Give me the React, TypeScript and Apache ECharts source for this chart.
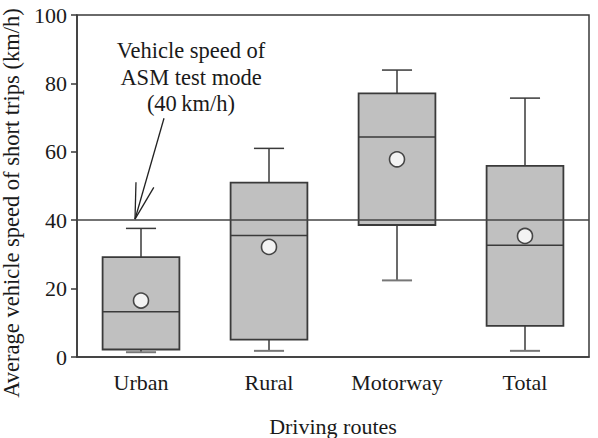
import React, { useEffect, useRef } from 'react';
import * as echarts from 'echarts';

// Average vehicle speed of short trips per driving route (km/h)
const routes = ['Urban', 'Rural', 'Motorway', 'Total'];
const whiskerLow = [1.4, 1.8, 22.4, 1.8];
const lowerQuartile = [2.2, 5.1, 38.6, 9.1];
const medianSpeed = [13.2, 35.5, 64.3, 32.7];
const upperQuartile = [29.2, 51.0, 77.1, 55.9];
const whiskerHigh = [37.6, 61.0, 83.9, 75.7];
const meanSpeed = [16.5, 32.2, 57.8, 35.4];

// Reference speed of the ASM test mode
const asmSpeed = 40;
const asmNote = ['Vehicle speed of', 'ASM test mode', '(40\u2009km/h)'];

const yMin = 0;
const yMax = 100;
const yStep = 20;

const FONT = "'Liberation Serif', 'Times New Roman', serif";
const INK = '#1a1a1a';
const EDGE = '#3a3a3a';

export default function App() {
  const ref = useRef<HTMLDivElement>(null);

  useEffect(() => {
    if (!ref.current) return;
    const chart = echarts.init(ref.current, null, { renderer: 'svg' });

    const boxData = routes.map((_, i) => [
      i,
      whiskerLow[i],
      lowerQuartile[i],
      medianSpeed[i],
      upperQuartile[i],
      whiskerHigh[i],
    ]);

    const option: any = {
      animation: false,
      backgroundColor: '#fff',
      textStyle: { fontFamily: FONT },
      grid: {
        left: 77,
        right: 9,
        top: 15,
        bottom: 81,
        outerBoundsMode: 'none',
        containLabel: false,
        show: true,
        borderColor: EDGE,
        borderWidth: 1.5,
        backgroundColor: 'transparent',
      },
      xAxis: {
        type: 'category',
        data: routes,
        boundaryGap: true,
        name: 'Driving routes',
        nameLocation: 'middle',
        nameGap: 58,
        nameTextStyle: { fontFamily: FONT, fontSize: 22, color: INK },
        axisLine: { lineStyle: { color: EDGE, width: 1.5 } },
        axisTick: { alignWithLabel: true, length: 6, lineStyle: { color: EDGE, width: 1.5 } },
        axisLabel: { fontFamily: FONT, fontSize: 22, color: INK, margin: 14 },
      },
      yAxis: {
        type: 'value',
        min: yMin,
        max: yMax,
        interval: yStep,
        name: 'Average vehicle speed of short trips (km/h)',
        nameLocation: 'middle',
        nameGap: 54,
        nameTextStyle: { fontFamily: FONT, fontSize: 22.5, color: INK, padding: [0, 34, 0, 0] },
        axisLine: { show: true, lineStyle: { color: EDGE, width: 1.5 } },
        axisTick: { show: true, length: 6, lineStyle: { color: EDGE, width: 1.5 } },
        axisLabel: { fontFamily: FONT, fontSize: 22, color: INK, margin: 10 },
        splitLine: { show: false },
      },
      series: [
        {
          type: 'custom',
          data: boxData,
          encode: { x: 0, y: [1, 2, 3, 4, 5] },
          z: 2,
          renderItem: (_params: any, api: any) => {
            const idx = api.value(0);
            const lo = api.coord([idx, api.value(1)]);
            const q1 = api.coord([idx, api.value(2)]);
            const md = api.coord([idx, api.value(3)]);
            const q3 = api.coord([idx, api.value(4)]);
            const hi = api.coord([idx, api.value(5)]);
            const band = api.size([1, 0])[0];
            const bw = band * 0.6;
            const cw = band * 0.235;
            const x = lo[0];
            const line = { stroke: EDGE, lineWidth: 1.5 };
            return {
              type: 'group',
              children: [
                { type: 'line', shape: { x1: x, y1: hi[1], x2: x, y2: q3[1] }, style: line },
                { type: 'line', shape: { x1: x, y1: q1[1], x2: x, y2: lo[1] }, style: line },
                {
                  type: 'rect',
                  shape: { x: x - bw / 2, y: q3[1], width: bw, height: q1[1] - q3[1] },
                  style: { fill: '#c0c0c0', stroke: EDGE, lineWidth: 1.8 },
                },
                { type: 'line', shape: { x1: x - bw / 2, y1: md[1], x2: x + bw / 2, y2: md[1] }, style: line },
                { type: 'line', shape: { x1: x - cw / 2, y1: hi[1], x2: x + cw / 2, y2: hi[1] }, style: line },
                { type: 'line', shape: { x1: x - cw / 2, y1: lo[1], x2: x + cw / 2, y2: lo[1] }, style: { stroke: '#777', lineWidth: 2 } },
              ],
            };
          },
        },
        {
          type: 'scatter',
          data: routes.map((r, i) => [r, meanSpeed[i]]),
          symbol: 'circle',
          symbolSize: 15,
          z: 4,
          itemStyle: { color: '#fff', borderColor: '#222', borderWidth: 1.6 },
          markLine: {
            silent: true,
            symbol: ['none', 'none'],
            label: { show: false },
            lineStyle: { color: '#444', width: 1.5, type: 'solid' },
            data: [{ yAxis: asmSpeed }],
          },
        },
      ],
    };

    chart.setOption(option);

    // Annotation arrow pointing at the ASM speed line above the Urban box
    const [cx, cy] = chart.convertToPixel({ xAxisIndex: 0, yAxisIndex: 0 }, [0, asmSpeed]) as number[];
    const tip = [cx - 6, cy - 1];
    const tail = [tip[0] + 29, tip[1] - 101];
    const ang = Math.atan2(tail[1] - tip[1], tail[0] - tip[0]);
    const headLen = 37;
    const spread = (14.5 * Math.PI) / 180;
    const h1 = [tip[0] + headLen * Math.cos(ang - spread), tip[1] + headLen * Math.sin(ang - spread)];
    const h2 = [tip[0] + headLen * Math.cos(ang + spread), tip[1] + headLen * Math.sin(ang + spread)];
    const arrowStyle = { stroke: '#222', lineWidth: 1.3 };

    chart.setOption({
      graphic: [
        {
          type: 'text',
          x: tip[0] + 56,
          y: 77,
          style: {
            text: asmNote.join('\n'),
            fontFamily: FONT,
            fontSize: 22.5,
            fill: INK,
            align: 'center',
            verticalAlign: 'middle',
            lineHeight: 26.5,
          },
        },
        { type: 'line', shape: { x1: tail[0], y1: tail[1], x2: tip[0], y2: tip[1] }, style: arrowStyle },
        { type: 'line', shape: { x1: tip[0], y1: tip[1], x2: h1[0], y2: h1[1] }, style: arrowStyle },
        { type: 'line', shape: { x1: tip[0], y1: tip[1], x2: h2[0], y2: h2[1] }, style: arrowStyle },
      ],
    });

    return () => chart.dispose();
  }, []);

  return (
    <div
      ref={ref}
      style={{ position: 'fixed', left: 0, top: 0, width: 598, height: 438 }}
    />
  );
}
